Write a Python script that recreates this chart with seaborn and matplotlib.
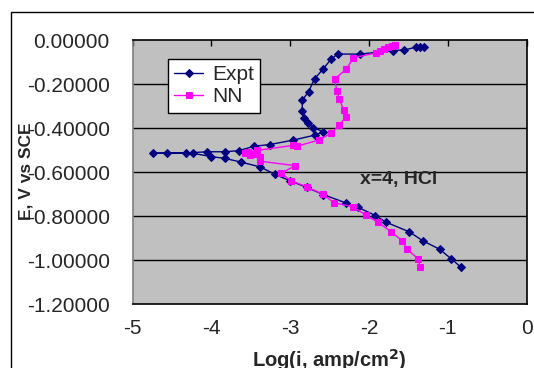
import matplotlib
matplotlib.use("Agg")
import matplotlib.pyplot as plt
import seaborn as sns
import pandas as pd
from matplotlib.patches import Rectangle

# ---- data ----
expt_logi = [-1.306, -1.348, -1.403, -1.551, -1.691, -2.111, -2.399, -2.483, -2.584, -2.691,
             -2.767, -2.844, -2.848, -2.826, -2.775, -2.704, -2.577, -2.682, -2.962, -3.254,
             -3.457, -3.652, -3.830, -4.058, -4.321, -4.567, -4.745,
             -4.236, -4.000, -3.830, -3.623, -3.381, -3.191, -3.000, -2.790, -2.577, -2.297,
             -2.136, -1.917, -1.784, -1.488, -1.310, -1.103, -0.954, -0.831]
expt_E = [-0.030, -0.030, -0.033, -0.045, -0.048, -0.064, -0.064, -0.088, -0.133, -0.177,
          -0.235, -0.273, -0.323, -0.353, -0.379, -0.399, -0.417, -0.432, -0.455, -0.475,
          -0.483, -0.503, -0.508, -0.508, -0.514, -0.514, -0.515,
          -0.515, -0.530, -0.538, -0.555, -0.577, -0.611, -0.640, -0.670, -0.703, -0.740,
          -0.761, -0.798, -0.828, -0.872, -0.914, -0.951, -0.995, -1.033]

nn_logi = [-1.666, -1.704, -1.755, -1.806, -1.856, -1.907, -2.196, -2.288, -2.435, -2.407,
           -2.374, -2.320, -2.292, -2.374, -2.479, -2.640, -2.915, -2.958,
           -3.423, -3.534, -3.572, -3.508, -3.445, -3.381, -3.381, -2.936, -3.114, -2.994,
           -2.784, -2.584, -2.441, -2.203, -2.034, -1.891, -1.720, -1.581, -1.517, -1.377, -1.348]
nn_E = [-0.023, -0.027, -0.034, -0.043, -0.052, -0.059, -0.080, -0.133, -0.177, -0.232,
        -0.270, -0.318, -0.350, -0.386, -0.424, -0.455, -0.483, -0.479,
        -0.502, -0.509, -0.514, -0.523, -0.518, -0.534, -0.551, -0.571, -0.606, -0.639,
        -0.668, -0.701, -0.740, -0.758, -0.797, -0.827, -0.871, -0.912, -0.951, -0.994, -1.033]

x_ticks = [-5, -4, -3, -2, -1, 0]
y_ticks = [0.0, -0.2, -0.4, -0.6, -0.8, -1.0, -1.2]
series_names = ["Expt", "NN"]
annotation = "x=4, HCl"

# ---- styling ----
sns.set_style("white")
plt.rcParams["font.family"] = ["Liberation Sans", "DejaVu Sans"]
plt.rcParams["axes.unicode_minus"] = False

W, H = 534, 368
fig = plt.figure(figsize=(W / 100, H / 100), dpi=100)
fig.patch.set_facecolor("white")

left, right, top, bottom = 132.6, 526.5, 40.0, 304.0
ax = fig.add_axes([left / W, 1 - bottom / H, (right - left) / W, (bottom - top) / H])
ax.set_facecolor("#C0C0C0")

df_e = pd.DataFrame({"x": expt_logi, "y": expt_E})
df_n = pd.DataFrame({"x": nn_logi, "y": nn_E})

sns.lineplot(data=df_e, x="x", y="y", sort=False, estimator=None, ax=ax,
             color="#000080", lw=1.0, marker="D", markersize=4, markeredgecolor="#000080",
             label=series_names[0])
sns.lineplot(data=df_n, x="x", y="y", sort=False, estimator=None, ax=ax,
             color="#FF00FF", lw=1.0, marker="s", markersize=5, markeredgecolor="#FF00FF",
             label=series_names[1])

ax.set_xlim(-5, 0)
ax.set_ylim(-1.2, 0)
ax.set_xticks(x_ticks)
ax.set_xticklabels([str(t) for t in x_ticks])
ax.set_yticks(y_ticks)
ax.set_yticklabels([f"{t:.5f}".replace("-0.00000", "0.00000") for t in y_ticks])

for yv in y_ticks[1:-1]:
    ax.axhline(yv, color="black", lw=1.0, zorder=0.5)

ax.tick_params(axis="x", bottom=False, top=True, direction="in", length=4, width=1,
               color="black", labelbottom=True, labeltop=False, labelsize=15, pad=11)
ax.tick_params(axis="y", left=False, right=False, labelsize=15, pad=13)

for s in ["top", "bottom", "right"]:
    ax.spines[s].set_color("black")
    ax.spines[s].set_linewidth(1.2)
ax.spines["left"].set_color("#808080")
ax.spines["left"].set_linewidth(1.2)

ax.set_xlabel("Log(i, amp/cm$^\\mathbf{2}$)", fontsize=14.5, fontweight="bold", labelpad=6)
ax.set_ylabel("E, V vs SCE", fontsize=12.5, fontweight="bold")
ax.yaxis.set_label_coords((25.5 - left) / (right - left), (bottom - 171) / (bottom - top))
ax.yaxis.label.set_verticalalignment("center")

ax.text(-1.628, -0.632, annotation, fontsize=14, fontweight="bold", ha="center", va="center")

leg = ax.legend(loc="upper left", bbox_to_anchor=((168 - left) / (right - left), (bottom - 59) / (bottom - top)),
                borderaxespad=0, frameon=True, fancybox=False, framealpha=1, edgecolor="black",
                fontsize=15, handlelength=1.4, handletextpad=0.4, labelspacing=0.15, borderpad=0.3)
leg.get_frame().set_linewidth(1.0)

fig.patches.append(Rectangle((11 / W, -0.2), 1.2, 1 - 12 / H + 0.2, transform=fig.transFigure,
                             fill=False, ec="black", lw=1.0))

fig.savefig("out.png", dpi=100)
